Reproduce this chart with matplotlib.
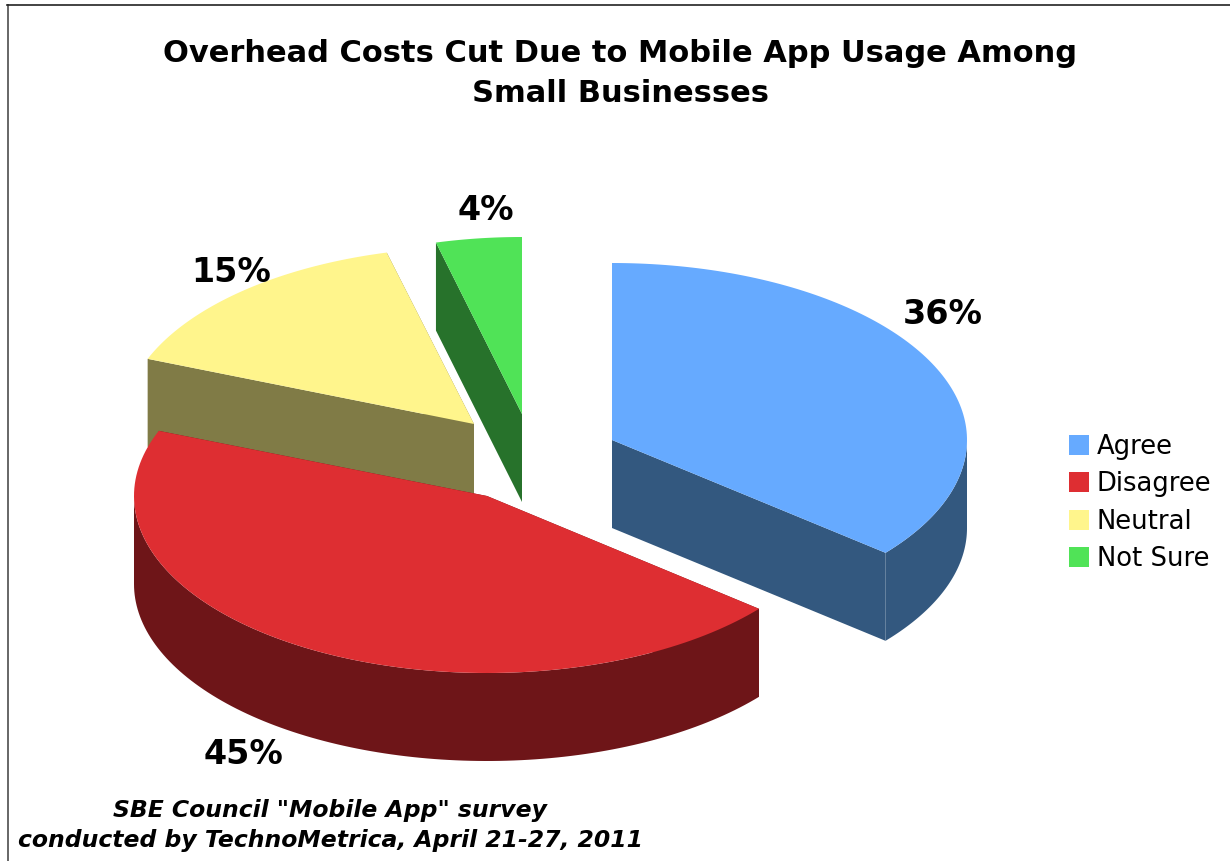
import numpy as np
import matplotlib
matplotlib.use("Agg")
import matplotlib.pyplot as plt
from matplotlib.patches import Polygon

# Datos del grafico
categorias = ["Agree", "Disagree", "Neutral", "Not Sure"]
valores = [36, 45, 15, 4]
etiquetas = ["36%", "45%", "15%", "4%"]

titulo = "Overhead Costs Cut Due to Mobile App Usage Among\nSmall Businesses"
nota = 'SBE Council "Mobile App" survey\nconducted by TechnoMetrica, April 21-27, 2011'

# Estilo: colores de la cara superior y de la pared
colores = ["#66AAFF", "#DE2E32", "#FFF58C", "#50E357"]
oscuros = ["#33587F", "#6E1518", "#807B46", "#27722B"]

# Geometria del pastel en pixeles de la imagen
centros = [(612, 440), (487, 496), (474, 424), (522, 414)]
radios_x = [355, 353, 351, 346]
ry = 177
grosor = 88
pos_etiquetas = [(943, 314), (243, 755), (231, 273), (486, 210)]


def punto(c, rx, ang):
    return c[0] + rx * np.sin(ang), c[1] - ry * np.cos(ang)


def arco(c, rx, a0, a1, n=120):
    t = np.linspace(a0, a1, n)
    return np.column_stack(punto(c, rx, t))


def dibujar_porcion(ax, c, rx, a0, a1, color, oscuro, etiqueta):
    baja = np.array([0, grosor])
    centro = np.array(c, dtype=float)

    # Paredes de los cortes
    for a in (a0, a1):
        borde = np.array(punto(c, rx, a))
        ax.add_patch(Polygon([centro, borde, borde + baja, centro + baja],
                             facecolor=oscuro, edgecolor="none"))

    # Pared exterior: solo la parte delantera de la elipse
    ini, fin = max(a0, np.pi / 2), min(a1, 3 * np.pi / 2)
    if fin > ini:
        curva = arco(c, rx, ini, fin)
        ax.add_patch(Polygon(np.vstack([curva, curva[::-1] + baja]),
                             facecolor=oscuro, edgecolor="none"))

    # Cara superior
    ax.add_patch(Polygon(np.vstack([centro, arco(c, rx, a0, a1)]), facecolor=color,
                         edgecolor="none", label=etiqueta))


plt.rcParams["font.family"] = ["DejaVu Sans"]
fig = plt.figure(figsize=(12.3, 8.61), dpi=100)
ax = fig.add_axes([0, 0, 1, 1])
ax.set_xlim(0, 1230)
ax.set_ylim(861, 0)
ax.axis("off")

# Marco izquierdo y superior
ax.plot([7.5, 7.5], [861, 5], color="#666666", lw=1.4)
ax.plot([7, 1230], [5, 5], color="#222222", lw=1.2)

# Las porciones se dibujan de atras hacia delante
fracciones = np.array(valores) / sum(valores)
limites = np.concatenate([[0], np.cumsum(fracciones)]) * 2 * np.pi
for i in [3, 2, 1, 0]:
    dibujar_porcion(ax, centros[i], radios_x[i], limites[i], limites[i + 1],
                    colores[i], oscuros[i], categorias[i])

for txt, (x, y) in zip(etiquetas, pos_etiquetas):
    ax.text(x, y, txt, ha="center", va="center", fontsize=24, fontweight="bold", color="black")

ax.text(620, 73.5, titulo, ha="center", va="center", fontsize=22, fontweight="bold",
        color="black", linespacing=1.47, multialignment="center")
ax.text(330, 825.5, nota, ha="center", va="center", fontsize=16.9, fontweight="bold",
        style="italic", color="black", linespacing=1.43, multialignment="center")

# Leyenda en el orden de las categorias
caras = {p.get_label(): p for p in ax.patches if p.get_label() in categorias}
ax.legend([caras[c] for c in categorias], categorias, loc="center left",
          bbox_to_anchor=(1048 / 1230, 1 - 503 / 861), frameon=False, fontsize=18.6,
          handlelength=0.8, handleheight=0.8, handletextpad=0.28, labelspacing=0.44,
          borderpad=0.3)

fig.savefig("out.png", dpi=100)
